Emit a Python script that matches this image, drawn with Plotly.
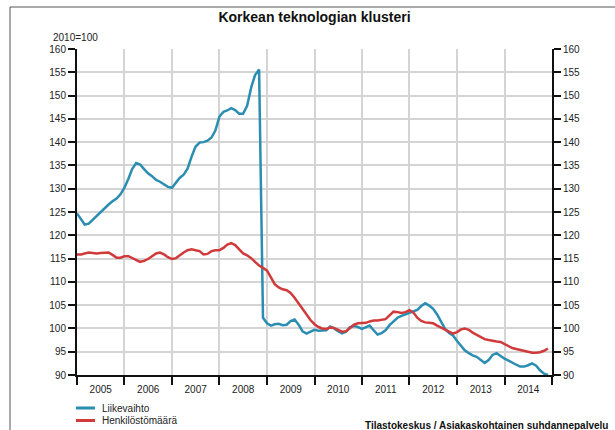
import pandas as pd
import plotly.graph_objects as go

# Monthly index, 2010=100, Jan 2005 - Dec 2014
months = pd.date_range("2005-01-01", "2014-12-01", freq="MS")

liikevaihto = [
    124.7, 123.3, 122.3, 122.5, 123.3, 124.2, 125.1, 125.8, 126.6, 127.3, 127.9, 128.8,  # 2005
    130.2, 132.2, 134.2, 135.5, 135.2, 134.2, 133.3, 132.7, 131.9, 131.5, 130.9, 130.4,  # 2006
    130.2, 131.2, 132.3, 133.0, 134.3, 136.9, 139.0, 139.9, 140.0, 140.3, 141.0, 142.5,  # 2007
    145.5, 146.5, 146.8, 147.3, 146.9, 146.1, 146.1, 147.8, 151.7, 154.4, 155.6, 102.3,  # 2008
    101.1, 100.6, 100.9, 101.0, 100.7, 100.8, 101.6, 101.9, 100.8, 99.4, 98.9, 99.3,     # 2009
    99.7, 99.5, 99.5, 99.6, 100.4, 100.0, 99.4, 98.95, 99.3, 100.3, 100.5, 100.3,        # 2010
    99.9, 100.3, 100.6, 99.6, 98.7, 99.0, 99.6, 100.7, 101.6, 102.3, 102.7, 103.0,       # 2011
    103.4, 103.7, 104.0, 104.8, 105.4, 104.9, 104.2, 103.0, 101.3, 99.9, 99.0, 98.5,     # 2012
    97.3, 96.2, 95.3, 94.7, 94.2, 93.9, 93.3, 92.6, 93.2, 94.3, 94.7, 94.1,              # 2013
    93.5, 93.1, 92.6, 92.2, 91.8, 91.8, 92.1, 92.5, 92.0, 91.0, 90.3, 90.0,              # 2014
]

henkilostomaara = [
    115.9, 115.9, 116.1, 116.3, 116.2, 116.1, 116.2, 116.3, 116.3, 115.8, 115.2, 115.2,  # 2005
    115.5, 115.5, 115.1, 114.6, 114.3, 114.5, 114.9, 115.5, 116.1, 116.3, 115.9, 115.3,  # 2006
    114.9, 115.1, 115.7, 116.3, 116.8, 117.0, 116.8, 116.6, 115.9, 116.0, 116.6, 116.8,  # 2007
    116.8, 117.3, 118.0, 118.3, 117.9, 116.9, 116.1, 115.7, 115.1, 114.3, 113.5, 113.0,  # 2008
    112.4, 110.9, 109.5, 108.8, 108.4, 108.2, 107.6, 106.6, 105.4, 104.0, 102.9, 101.8,  # 2009
    100.9, 100.3, 100.0, 99.9, 100.2, 100.1, 99.7, 99.3, 99.4, 100.0, 100.8, 101.1,      # 2010
    101.2, 101.2, 101.5, 101.7, 101.7, 101.8, 102.0, 102.8, 103.6, 103.5, 103.3, 103.5,  # 2011
    103.9, 103.4, 102.3, 101.6, 101.3, 101.2, 101.1, 100.6, 100.2, 99.8, 99.3, 98.9,     # 2012
    99.2, 99.8, 100.0, 99.7, 99.1, 98.6, 98.1, 97.7, 97.5, 97.3, 97.2, 97.1,             # 2013
    96.6, 96.1, 95.8, 95.6, 95.4, 95.1, 94.9, 94.8, 94.8, 94.9, 95.2, 95.7,              # 2014
]

series_names = ["Liikevaihto", "Henkilöstömäärä"]
series_colors = ["#2a8db1", "#d13a3b"]

y_ticks = list(range(90, 161, 5))

FONT = "Liberation Sans, Arial, Helvetica, sans-serif"
W, H = 615, 430
L, R, T, B = 77, 63, 49, 55
PW, PH = W - L - R, H - T - B


def px(xp):
    return (xp - L) / PW


def py(yp):
    return (H - B - yp) / PH


fig = go.Figure()
for name, vals, col in zip(series_names, [liikevaihto, henkilostomaara], series_colors):
    fig.add_trace(go.Scatter(x=months, y=vals, mode="lines", name=name,
                             line=dict(color=col, width=2.5), showlegend=False))
# invisible trace to activate the right axis
fig.add_trace(go.Scatter(x=[months[0]], y=[None], yaxis="y2", showlegend=False,
                         hoverinfo="skip"))

yaxis_common = dict(
    range=[90, 160], tickvals=y_ticks, ticks="outside", ticklen=7, tickwidth=1.5,
    tickcolor="#111", showline=True, linecolor="#111", linewidth=2,
    tickfont=dict(family=FONT, size=10, color="#222"), zeroline=False,
)

fig.update_layout(
    width=W, height=H,
    margin=dict(l=L, r=R, t=T, b=B),
    paper_bgcolor="white", plot_bgcolor="white",
    title=dict(text="<b>Korkean teknologian klusteri</b>", x=px(314.5), xref="paper",
               xanchor="center", y=1 - 17 / H, yanchor="middle",
               font=dict(family=FONT, size=14, color="#111")),
    xaxis=dict(
        type="date", range=["2005-01-01", "2015-01-01"],
        tick0="2005-01-01", dtick="M12", tickformat="%Y", ticklabelmode="period",
        ticks="outside", ticklen=8, tickwidth=1.5, tickcolor="#111",
        ticklabelstandoff=-4,
        showline=True, linecolor="#111", linewidth=2,
        showgrid=True, gridcolor="#d4d4d4", gridwidth=1.5,
        tickfont=dict(family=FONT, size=10, color="#222"),
    ),
    yaxis=dict(showgrid=True, gridcolor="#d4d4d4", gridwidth=1.5, side="left", **yaxis_common),
    yaxis2=dict(overlaying="y", side="right", showgrid=False, **yaxis_common),
    showlegend=False,
)

shapes = [
    # outer frame
    dict(type="rect", xref="paper", yref="paper", x0=px(10), x1=px(720), y0=py(500), y1=py(7),
         line=dict(color="#555", width=1), layer="below"),
]
annotations = [
    dict(text="2010=100", xref="paper", yref="paper", x=px(51), y=py(38), xanchor="left",
         yanchor="middle", showarrow=False, font=dict(family=FONT, size=10, color="#222")),
    dict(text="<b>Tilastokeskus / Asiakaskohtainen suhdannepalvelu</b>", xref="paper", yref="paper",
         x=px(610), y=py(425), xanchor="right", yanchor="middle", showarrow=False,
         font=dict(family=FONT, size=10, color="#111")),
]
for i, (name, col) in enumerate(zip(series_names, series_colors)):
    yy = 408 + 12.5 * i
    shapes.append(dict(type="line", xref="paper", yref="paper", x0=px(76), x1=px(95),
                       y0=py(yy), y1=py(yy), line=dict(color=col, width=3)))
    annotations.append(dict(text=name, xref="paper", yref="paper", x=px(100), y=py(yy),
                            xanchor="left", yanchor="middle", showarrow=False,
                            font=dict(family=FONT, size=10, color="#222")))
fig.update_layout(shapes=shapes, annotations=annotations)

fig.write_html("out.html", config={"displayModeBar": False},
               post_script="document.body.style.margin='0';document.body.style.overflow='hidden';")
